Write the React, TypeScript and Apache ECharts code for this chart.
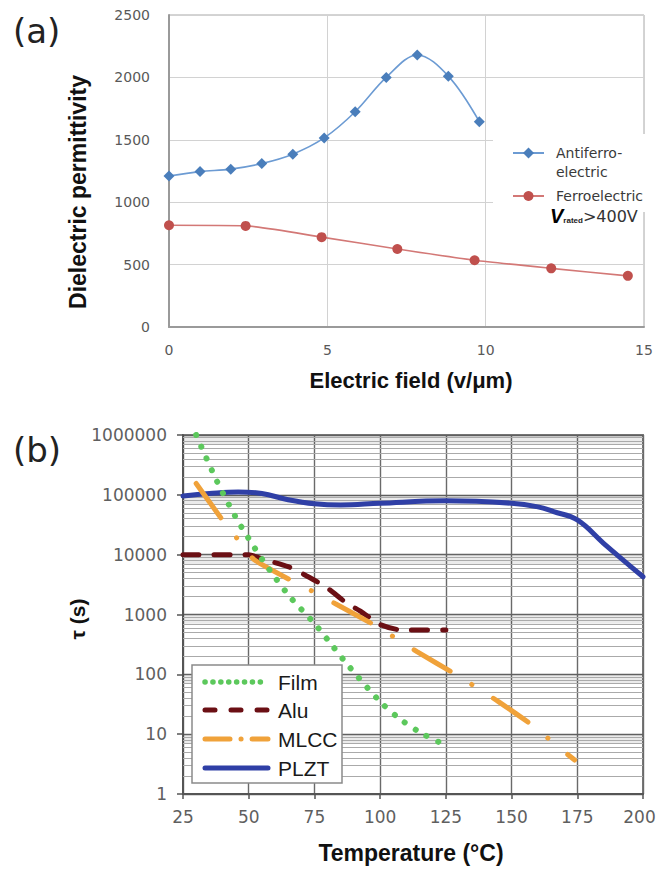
import React, { useEffect, useRef } from "react";
import * as echarts from "echarts";

// ---- (a) data ----
const fieldAF = [0, 0.98, 1.95, 2.93, 3.91, 4.9, 5.88, 6.86, 7.84, 8.82, 9.8];
const permAF = [1210, 1245, 1265, 1310, 1385, 1515, 1725, 2000, 2180, 2010, 1645];
const fieldFE = [0, 2.42, 4.82, 7.21, 9.65, 12.07, 14.49];
const permFE = [815, 810, 720, 625, 535, 470, 410];
const legendA = ["Antiferro-", "electric", "Ferroelectric"];

// ---- (b) data ----
const tempFilm = [30, 38, 45, 50, 55, 60, 66, 75, 80, 88, 100, 107.5, 116, 125];
const tauFilm = [1000000, 166000, 42700, 18600, 8500, 4170, 1900, 708, 380, 138, 35, 18, 10.2, 6.5];
const tempAlu = [25, 50, 55, 65, 73, 80, 87, 93, 100, 108, 125];
const tauAlu = [10000, 10000, 8500, 6300, 4200, 2750, 1580, 1100, 680, 550, 550];
const tempMLCC = [30, 40, 45.6, 52, 67, 74.6, 83, 98, 106, 114, 129, 137, 145, 159, 166, 174];
const tauMLCC = [155000, 38000, 18600, 8300, 3550, 2400, 1510, 660, 400, 240, 98, 59, 35, 13, 7.1, 3.7];
const tempPLZT = [25, 35, 46, 55, 65, 75, 85, 100, 125, 150, 160, 166, 175, 185, 200];
const tauPLZT = [95500, 105000, 112000, 105000, 83000, 71000, 67600, 72400, 79400, 72400, 63000, 52500, 38000, 15500, 4270];
const seriesNamesB = ["Film", "Alu", "MLCC", "PLZT"];
const decadesB = [1, 10, 100, 1000, 10000, 100000];
const minorMult = [2, 3, 4, 5, 6, 7, 8, 9];

const C_FILM = "#5cc85c";
const C_ALU = "#6b0f14";
const C_MLCC = "#f0a23a";
const C_PLZT = "#2f3fa6";
const TICK_FONT = "DejaVu Sans";
const TITLE_FONT = "Liberation Sans, Arial, sans-serif";

const zip = (xs: number[], ys: number[]) => xs.map((x, i) => [x, ys[i]]);

export default function App() {
  const ref = useRef<HTMLDivElement>(null);
  useEffect(() => {
    if (!ref.current) return;
    const chart = echarts.init(ref.current, undefined, { renderer: "svg" });

    const minorLines: any[] = [];
    const bands: any[] = [];
    decadesB.forEach((d) => {
      minorMult.forEach((m) => minorLines.push({ yAxis: d * m }));
      bands.push([{ yAxis: d * 7 }, { yAxis: d * 10 }]);
    });

    const option: any = {
      animation: false,
      grid: [
        { left: 169, top: 15, width: 475, height: 312, show: true, borderColor: "#a8a8a8", borderWidth: 1, outerBoundsMode: "none" },
        { left: 183, top: 435, width: 460, height: 359, show: true, borderColor: "#7a7a7a", borderWidth: 2, outerBoundsMode: "none" },
      ],
      xAxis: [
        {
          gridIndex: 0, type: "value", min: 0, max: 15, interval: 5,
          axisLine: { show: true, lineStyle: { color: "#9a9a9a", width: 2 } },
          axisTick: { show: false },
          axisLabel: { color: "#595959", fontFamily: TICK_FONT, fontSize: 14, margin: 16, showMinLabel: true, showMaxLabel: true },
          splitLine: { show: true, lineStyle: { color: "#d2d2d2", width: 1 } },
        },
        {
          gridIndex: 1, type: "value", min: 25, max: 200, interval: 25,
          axisLine: { show: true, lineStyle: { color: "#555", width: 2 } },
          axisTick: { show: true, length: 5, lineStyle: { color: "#555", width: 1.5 } },
          axisLabel: {
            color: "#5f5f5f", fontFamily: TICK_FONT, fontSize: 17, margin: 14, showMinLabel: true, showMaxLabel: true,
            formatter: (v: number) => (v === 200 ? "{e|200}" : String(v)),
            rich: { e: { color: "#5f5f5f", fontFamily: TICK_FONT, fontSize: 17, padding: [0, 7, 0, 0] } },
          },
          splitLine: { show: true, lineStyle: { color: "#6a6a6a", width: 1.4 } },
        },
      ],
      yAxis: [
        {
          gridIndex: 0, type: "value", min: 0, max: 2500, interval: 500,
          axisLine: { show: true, lineStyle: { color: "#9a9a9a", width: 2 } },
          axisTick: { show: false },
          axisLabel: { color: "#595959", fontFamily: TICK_FONT, fontSize: 14, margin: 19, formatter: (v: number) => String(v) },
          splitLine: { show: true, lineStyle: { color: "#d2d2d2", width: 1 } },
        },
        {
          gridIndex: 1, type: "log", logBase: 10, min: 1, max: 1000000,
          axisLine: { show: true, lineStyle: { color: "#555", width: 2 } },
          axisTick: { show: true, length: 6, lineStyle: { color: "#555", width: 1.5 } },
          axisLabel: { color: "#5f5f5f", fontFamily: TICK_FONT, fontSize: 17, margin: 16, formatter: (v: number) => String(Math.round(v)) },
          splitLine: { show: true, lineStyle: { color: "#666", width: 1.4 } },
        },
      ],
      series: [
        {
          name: "Antiferro-electric", type: "line", xAxisIndex: 0, yAxisIndex: 0,
          data: zip(fieldAF, permAF), smooth: 0.35, symbol: "diamond", symbolSize: 11,
          lineStyle: { color: "#6c9bd3", width: 1.6 }, itemStyle: { color: "#4a7ebb" }, z: 3,
        },
        {
          name: "Ferroelectric", type: "line", xAxisIndex: 0, yAxisIndex: 0,
          data: zip(fieldFE, permFE), smooth: 0.2, symbol: "circle", symbolSize: 10,
          lineStyle: { color: "#d37876", width: 1.6 }, itemStyle: { color: "#c0504d" }, z: 3,
        },
        {
          name: "minor", type: "line", xAxisIndex: 1, yAxisIndex: 1, data: [[25, 1]], showSymbol: false,
          lineStyle: { opacity: 0 }, silent: true, z: 1,
          markLine: {
            z: 1, silent: true, symbol: ["none", "none"], label: { show: false },
            lineStyle: { color: "#aaaaaa", width: 1, type: "solid" }, data: minorLines,
          },
          markArea: { z: 1, silent: true, itemStyle: { color: "rgba(0,0,0,0.08)" }, data: bands },
        },
        {
          name: seriesNamesB[3], type: "line", xAxisIndex: 1, yAxisIndex: 1,
          data: zip(tempPLZT, tauPLZT), smooth: 0.4, showSymbol: false,
          lineStyle: { color: C_PLZT, width: 5, cap: "round" }, z: 6,
        },
        {
          name: seriesNamesB[1], type: "line", xAxisIndex: 1, yAxisIndex: 1,
          data: zip(tempAlu, tauAlu), smooth: 0.2, showSymbol: false,
          lineStyle: { color: C_ALU, width: 5, type: [16, 15], cap: "round" }, z: 7,
        },
        {
          name: seriesNamesB[2], type: "line", xAxisIndex: 1, yAxisIndex: 1,
          data: zip(tempMLCC, tauMLCC), smooth: 0.2, showSymbol: false,
          lineStyle: { color: C_MLCC, width: 5, type: [42, 25.5, 0.1, 25.5], cap: "round" }, z: 8,
        },
        {
          name: seriesNamesB[0], type: "line", xAxisIndex: 1, yAxisIndex: 1,
          data: zip(tempFilm, tauFilm), smooth: 0.3, showSymbol: false,
          lineStyle: { color: C_FILM, width: 6, type: [0.1, 12.7], cap: "round" }, z: 9,
        },
      ],
      graphic: [
        { type: "text", left: 13, top: 14, z: 20, style: { text: "(a)", font: `34px ${TICK_FONT}`, fill: "#222" } },
        { type: "text", left: 13, top: 433, z: 20, style: { text: "(b)", font: `34px ${TICK_FONT}`, fill: "#222" } },
        {
          type: "text", x: 78, y: 192, rotation: Math.PI / 2, z: 20,
          style: { text: "Dielectric permittivity", font: `bold 23px ${TITLE_FONT}`, fill: "#111", align: "center", verticalAlign: "middle" },
        },
        {
          type: "text", x: 411, y: 380, z: 20,
          style: { text: "Electric field (v/μm)", font: `bold 22px ${TITLE_FONT}`, fill: "#111", align: "center", verticalAlign: "middle" },
        },
        {
          type: "text", x: 77, y: 619, rotation: Math.PI / 2, z: 20,
          style: { text: "τ (s)", font: `bold 21px ${TITLE_FONT}`, fill: "#111", align: "center", verticalAlign: "middle" },
        },
        {
          type: "text", x: 411, y: 853, z: 20,
          style: { text: "Temperature (°C)", font: `bold 23px ${TITLE_FONT}`, fill: "#111", align: "center", verticalAlign: "middle" },
        },
        // legend (a)
        { type: "rect", z: 10, shape: { x: 493, y: 134, width: 160, height: 78 }, style: { fill: "#fff" } },
        { type: "line", z: 11, shape: { x1: 513, y1: 153, x2: 544, y2: 153 }, style: { stroke: "#6c9bd3", lineWidth: 2 } },
        { type: "polygon", z: 12, shape: { points: [[528.5, 147.5], [534, 153], [528.5, 158.5], [523, 153]] }, style: { fill: "#4a7ebb" } },
        { type: "text", z: 12, x: 556, y: 153, style: { text: legendA[0], font: `14px ${TICK_FONT}`, fill: "#3a3a3a", verticalAlign: "middle" } },
        { type: "text", z: 12, x: 556, y: 172, style: { text: legendA[1], font: `14px ${TICK_FONT}`, fill: "#3a3a3a", verticalAlign: "middle" } },
        { type: "line", z: 11, shape: { x1: 513, y1: 196, x2: 544, y2: 196 }, style: { stroke: "#d37876", lineWidth: 2 } },
        { type: "circle", z: 12, shape: { cx: 528.5, cy: 196, r: 5 }, style: { fill: "#c0504d" } },
        { type: "text", z: 12, x: 556, y: 196, style: { text: legendA[2], font: `14px ${TICK_FONT}`, fill: "#3a3a3a", verticalAlign: "middle" } },
        {
          type: "text", z: 12, x: 550, y: 216,
          style: {
            text: "{v|V}{s|rated}{n|>400V}", verticalAlign: "middle",
            rich: {
              v: { font: `italic bold 20px ${TITLE_FONT}`, fill: "#000" },
              s: { font: `bold 8px ${TITLE_FONT}`, fill: "#222", padding: [8, 0, 0, 0] },
              n: { font: `16px ${TICK_FONT}`, fill: "#333" },
            },
          },
        },
        // legend (b)
        { type: "rect", z: 10, shape: { x: 192, y: 665, width: 150, height: 118 }, style: { fill: "#fff", stroke: "#8a8a8a", lineWidth: 1.5 } },
        { type: "line", z: 11, shape: { x1: 205, y1: 682, x2: 268, y2: 682 }, style: { stroke: C_FILM, lineWidth: 5.5, lineDash: [0.1, 7.8], lineCap: "round" } },
        { type: "line", z: 11, shape: { x1: 205, y1: 710, x2: 268, y2: 710 }, style: { stroke: C_ALU, lineWidth: 5, lineDash: [10, 16], lineCap: "round" } },
        { type: "line", z: 11, shape: { x1: 205, y1: 739, x2: 268, y2: 739 }, style: { stroke: C_MLCC, lineWidth: 5, lineDash: [25, 11, 0.1, 11], lineCap: "round" } },
        { type: "line", z: 11, shape: { x1: 205, y1: 768, x2: 268, y2: 768 }, style: { stroke: C_PLZT, lineWidth: 5, lineCap: "round" } },
        ...seriesNamesB.map((n, i) => ({
          type: "text", z: 12, x: 278, y: [682, 710, 739, 768][i],
          style: { text: n, font: `21px ${TITLE_FONT}`, fill: "#1a1a1a", verticalAlign: "middle" },
        })),
      ],
    };
    chart.setOption(option);
    return () => chart.dispose();
  }, []);
  return <div ref={ref} style={{ position: "absolute", left: 0, top: 0, width: 657, height: 870, background: "#fff" }} />;
}
